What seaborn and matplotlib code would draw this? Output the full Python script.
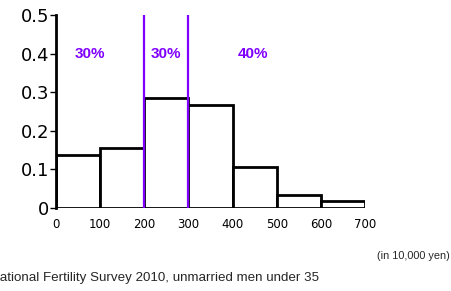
import matplotlib
matplotlib.use("Agg")
import matplotlib.pyplot as plt
import seaborn as sns
import numpy as np

bin_edges = [0, 100, 200, 300, 400, 500, 600, 700]
bin_centers = [50, 150, 250, 350, 450, 550, 650]
shares = [0.138, 0.156, 0.286, 0.266, 0.106, 0.033, 0.017]
split_lines = [200, 300]
zone_labels = ["30%", "30%", "40%"]
zone_label_x = [77, 249, 446]
y_ticks = [0, 0.1, 0.2, 0.3, 0.4, 0.5]
y_tick_labels = ["0", "0.1", "0.2", "0.3", "0.4", "0.5"]
x_ticks = [0, 100, 200, 300, 400, 500, 600, 700]

sns.set_style("white")
plt.rcParams['font.family'] = ['DejaVu Sans']

fig = plt.figure(figsize=(4.52, 2.91), dpi=100)
ax = fig.add_axes([56/452, 83/291, 309/452, 193/291])

sns.histplot(x=bin_centers, weights=shares, bins=bin_edges, ax=ax,
             color="white", edgecolor="black", linewidth=2, alpha=1, stat="count")

for xv in split_lines:
    ax.axvline(xv, color="#8000ff", lw=1.6, zorder=5)

purple = "#8000ff"
for lbl, xv in zip(zone_labels, zone_label_x):
    ax.text(xv, 0.40, lbl, color=purple, fontsize=11, fontweight="bold",
            ha="center", va="center", family="Liberation Sans")

ax.set_xlim(0, 700)
ax.set_ylim(0, 0.5)
ax.set_yticks(y_ticks)
ax.set_yticklabels(y_tick_labels, fontsize=13)
ax.set_xticks(x_ticks)
ax.set_xticklabels([str(v) for v in x_ticks], fontsize=8.5)
ax.set_ylabel("")
ax.set_xlabel("")
for s in ["top", "right", "bottom"]:
    ax.spines[s].set_visible(False)
ax.spines["left"].set_linewidth(2)
ax.spines["left"].set_color("black")
ax.tick_params(axis="y", left=True, length=4, width=1, pad=1, colors="black")
ax.tick_params(axis="x", bottom=False, pad=4, colors="black")

fig.text(450/452, 1 - 256/291, "(in 10,000 yen)", ha="right", va="center",
         fontsize=7.8, family="Liberation Sans")
fig.text(-9.5/452, 1 - 278/291, "National Fertility Survey 2010, unmarried men under 35",
         ha="left", va="center", fontsize=9.6, family="Liberation Sans")

fig.savefig("out.png", dpi=100)
